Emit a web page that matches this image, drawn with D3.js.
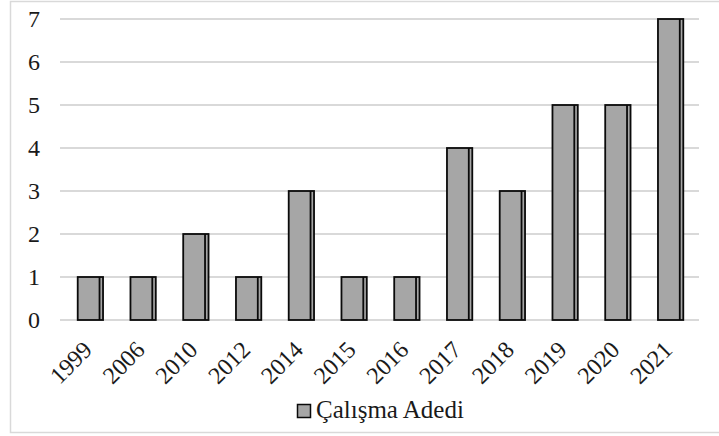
<!DOCTYPE html>
<html><head><meta charset="utf-8">
<script src="https://cdn.jsdelivr.net/npm/d3@7"></script>
<style>body{margin:0;background:#fff}svg{display:block} text{font-family:"Liberation Serif", serif;}</style>
</head><body>
<script>
const categories = ["1999","2006","2010","2012","2014","2015","2016","2017","2018","2019","2020","2021"];
const values = [1,1,2,1,3,1,1,4,3,5,5,7];
const yTicks = [0,1,2,3,4,5,6,7];
const seriesName = "Çalışma Adedi";

const W = 719, H = 436;
const font = "Liberation Serif";
const svg = d3.select("body").append("svg").attr("width", W).attr("height", H);

svg.append("rect").attr("x", 10.5).attr("y", 1.5).attr("width", 720).attr("height", 431)
  .attr("fill", "#fff").attr("stroke", "#d9d9d9").attr("stroke-width", 1.5);

const gridX0 = 60, gridX1 = 699;
const x = d3.scaleBand().domain(categories).range([64, 697]).paddingInner(0.52).paddingOuter(0.26);
const y = d3.scaleLinear().domain([0, 7]).range([320, 19]);

svg.append("g").selectAll("line").data(yTicks).join("line")
  .attr("x1", gridX0).attr("x2", gridX1)
  .attr("y1", d => y(d)).attr("y2", d => y(d))
  .attr("stroke", "#d9d9d9").attr("stroke-width", 2);

const yAxis = d3.axisLeft(y).tickValues(yTicks).tickFormat(d3.format("d")).tickSize(0).tickPadding(0);
const gy = svg.append("g").attr("transform", "translate(40,0)").call(yAxis)
  .attr("font-family", font).attr("font-size", 24);
gy.select(".domain").remove();
gy.selectAll("text").attr("fill", "#1a1a1a").attr("dy", "0.33em");

const bw = x.bandwidth();
const bars = svg.append("g").selectAll("g").data(categories.map((c,i)=>({c, v: values[i]}))).join("g");
bars.append("rect")
  .attr("x", d => x(d.c)).attr("y", d => y(d.v))
  .attr("width", bw).attr("height", d => y(0) - y(d.v))
  .attr("fill", "#a6a6a6").attr("stroke", "#0a0a0a").attr("stroke-width", 1.8);
bars.append("line")
  .attr("x1", d => x(d.c) + bw - 3.5).attr("x2", d => x(d.c) + bw - 3.5)
  .attr("y1", d => y(d.v)).attr("y2", y(0))
  .attr("stroke", "#0a0a0a").attr("stroke-width", 1.8);

const xAxis = d3.axisBottom(x).tickSize(0).tickPadding(0);
const gx = svg.append("g").attr("transform", "translate(0,332)").call(xAxis)
  .attr("font-family", font).attr("font-size", 24);
gx.select(".domain").remove();
gx.selectAll("text")
  .attr("fill", "#1a1a1a")
  .attr("text-anchor", "end")
  .attr("dy", "0.72em")
  .attr("transform", "translate(-9,7) rotate(-45)");

svg.append("rect").attr("x", 297.5).attr("y", 404.5).attr("width", 13).attr("height", 13)
  .attr("fill", "#a6a6a6").attr("stroke", "#0a0a0a").attr("stroke-width", 1.5);
svg.append("text").attr("x", 316).attr("y", 418).text(seriesName)
  .attr("font-family", font).attr("font-size", 25).attr("fill", "#1a1a1a");
</script>
</body></html>
